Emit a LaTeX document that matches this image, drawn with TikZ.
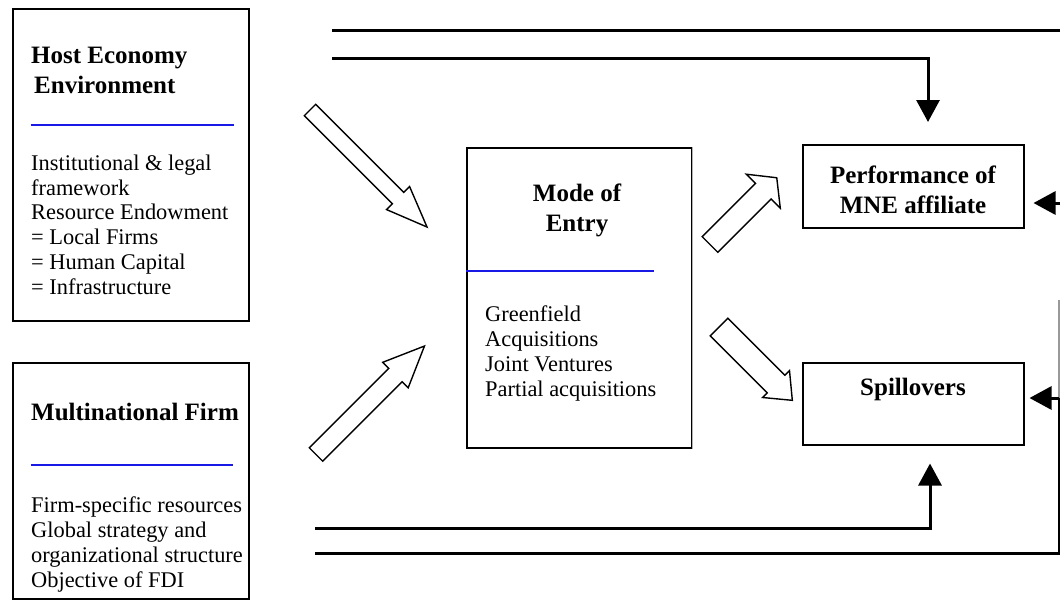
\documentclass[tikz,border=0pt]{standalone}
\usepackage{fontspec}
\setmainfont{Liberation Serif}
\usetikzlibrary{arrows.meta,calc}
\definecolor{ruleblue}{rgb}{0.1, 0.1, 0.9}

\begin{document}
\begin{tikzpicture}[x=1pt,y=-1pt,>={Triangle[length=22pt,width=23pt]}]
        \tikzstyle{box}=[draw, line width=1.5pt, rectangle, inner sep=0pt, anchor=north west]
        \tikzstyle{head}=[font=\fontsize{25}{29.5}\selectfont\bfseries, inner sep=0pt]
        \tikzstyle{body}=[font=\fontsize{22.4}{24.7}\selectfont, align=left, inner sep=0pt, anchor=base west]
        \tikzstyle{rule}=[ruleblue, line width=1.3pt]
        \tikzstyle{flow}=[line width=3pt]
        \tikzstyle{feed}=[flow, ->]
        \tikzstyle{hollow}=[draw, fill=white, line width=1.4pt]
        \useasboundingbox (0,0) rectangle (1060,600);

        % Boxes
        \node (host)[box, minimum width=236pt, minimum height=312pt] at (12,8) {};
        \node (mnf)[box, minimum width=236pt, minimum height=236pt] at (12,362) {};
        \node (mode)[box, minimum width=225pt, minimum height=300pt] at (466,147) {};
        \node (perf)[box, minimum width=221pt, minimum height=83pt] at (802,144) {};
        \node (spill)[box, minimum width=221pt, minimum height=82pt] at (802,362) {};
        \draw[black!30, line width=1.5pt] (mode.north east) -- (mode.south east);

        % Texts (base = last line)
        \node (hosthead)[head, align=left, anchor=base west] at (31,93) {Host Economy\\\hspace*{3pt}Environment};
        \draw[rule] (31,125) -- (234,125);
        \node (hostbody)[body] at (31,294) {Institutional \& legal\\framework\\Resource Endowment\\= Local Firms\\= Human Capital\\= Infrastructure};

        \node (mnfhead)[head, anchor=base west] at (31,420) {Multinational Firm};
        \draw[rule] (31,465) -- (233,465);
        \node (mnfbody)[body] at (31,587) {Firm-specific resources\\Global strategy and\\organizational structure\\Objective of FDI};

        \node (modehead)[head, align=center, anchor=base] at (577,231) {Mode of\\Entry};
        \draw[rule] (mode.west |- 0,271) -- (654,271);
        \node (modebody)[body] at (485,396) {Greenfield\\Acquisitions\\Joint Ventures\\Partial acquisitions};

        \node (perfhead)[head, align=center, anchor=base] at (913,213) {Performance of\\MNE affiliate};
        \node (spillhead)[head, anchor=base] at (913,395) {Spillovers};

        % Hollow arrows
        \begin{scope}[shift={(310,110)}, rotate=-45]
            \draw[hollow] (0,-8) -- (124.5,-8) -- (124.5,-16.3) -- (165.5,0) -- (124.5,16.3) -- (124.5,8) -- (0,8) -- cycle;
        \end{scope}
        \begin{scope}[shift={(316,454.5)}, rotate=45]
            \draw[hollow] (0,-9.5) -- (112.4,-9.5) -- (112.4,-18) -- (153.4,0) -- (112.4,18) -- (112.4,9.5) -- (0,9.5) -- cycle;
        \end{scope}
        \begin{scope}[shift={(710,244.5)}, rotate=45]
            \draw[hollow] (0,-11) -- (75.4,-11) -- (75.4,-24) -- (94.4,0) -- (75.4,24) -- (75.4,11) -- (0,11) -- cycle;
        \end{scope}
        \begin{scope}[shift={(719,327)}, rotate=-45]
            \draw[hollow] (0,-12.5) -- (80.7,-12.5) -- (80.7,-19) -- (103.7,0) -- (80.7,19) -- (80.7,12.5) -- (0,12.5) -- cycle;
        \end{scope}

        % Feedback lines
        \coordinate (t1) at (332,30);
        \coordinate (t1end) at (1060,30);
        \coordinate (t2) at (332,58);
        \coordinate (pdrop) at (928,0);
        \coordinate (b1) at (315,528);
        \coordinate (sdrop) at (930,0);
        \coordinate (b2) at (315,553);
        \coordinate (b2end) at (1059,553);
        \coordinate (r1) at (1060,203);
        \coordinate (r2) at (1059,398);
        \coordinate (rtop) at (1059,300);

        \draw[flow] (t1) -- (t1end);
        \draw[feed, shorten >=22pt] (t2) -| (perf.north -| pdrop);
        \draw[feed, shorten >=18pt] (b1) -| (spill.south -| sdrop);
        \draw[flow] (b2) -- (b2end) -- (r2);
        \draw[black!40, line width=1.5pt] (r2) -- (rtop);
        \draw[feed, shorten >=9pt] (r1) -- (r1 -| perf.east);
        \draw[feed, shorten >=5pt] (r2) -- (r2 -| spill.east);
    \end{tikzpicture}
\end{document}
